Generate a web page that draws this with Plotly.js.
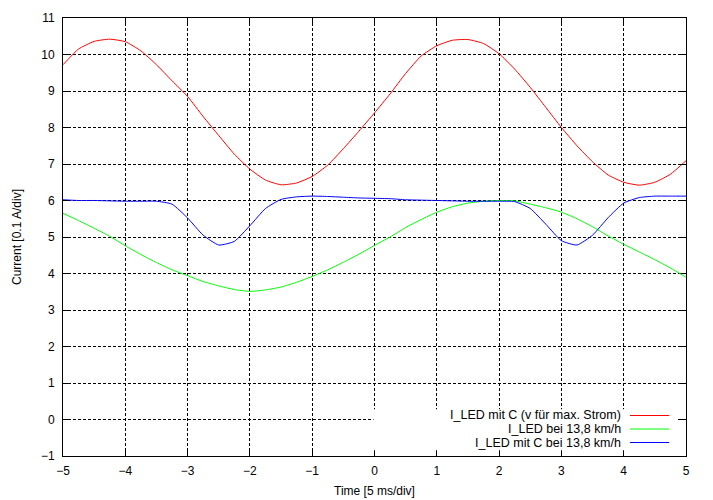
<!DOCTYPE html>
<html>
<head>
<meta charset="utf-8">
<script src="https://cdn.plot.ly/plotly-3.0.1.min.js"></script>
<style>
  html, body { margin: 0; padding: 0; background: white; }
  #chart { width: 713px; height: 500px; }
</style>
</head>
<body>
<div id="chart"></div>
<script>
// Zeitachse (5 ms/div), Schritt 0.25
var timeDiv = [-5, -4.75, -4.5, -4.25, -4, -3.75, -3.5, -3.25, -3, -2.75, -2.5, -2.25, -2, -1.75, -1.5, -1.25, -1, -0.75, -0.5, -0.25,
    0, 0.25, 0.5, 0.75, 1, 1.25, 1.5, 1.75, 2, 2.25, 2.5, 2.75, 3, 3.25, 3.5, 3.75, 4, 4.25, 4.5, 4.75, 5];

// I_LED mit C (v fuer max. Strom)
var ledMaxStrom = [9.72, 10.15, 10.36, 10.42, 10.35, 10.1, 9.72, 9.28, 8.85, 8.3, 7.78, 7.27, 6.86, 6.56, 6.43, 6.48, 6.66, 6.97, 7.42, 7.9,
    8.4, 8.92, 9.48, 9.96, 10.24, 10.39, 10.41, 10.3, 10.02, 9.6, 9.1, 8.55, 8.0, 7.5, 7.06, 6.7, 6.5, 6.42, 6.5, 6.72, 7.09];

// I_LED bei 13,8 km/h
var ledOhneC = [5.65, 5.45, 5.24, 5.02, 4.76, 4.52, 4.3, 4.1, 3.94, 3.78, 3.66, 3.56, 3.51, 3.55, 3.63, 3.76, 3.92, 4.1, 4.31, 4.53,
    4.77, 5.0, 5.26, 5.48, 5.68, 5.83, 5.93, 5.98, 6.0, 5.99, 5.9, 5.8, 5.68, 5.5, 5.28, 5.03, 4.8, 4.59, 4.38, 4.15, 3.9];

// I_LED mit C bei 13,8 km/h
var ledMitC = [6.02, 6.0, 6.0, 5.99, 5.98, 5.98, 5.98, 5.9, 5.52, 5.05, 4.78, 4.88, 5.31, 5.78, 6.03, 6.1, 6.12, 6.11, 6.09, 6.07,
    6.06, 6.05, 6.02, 6.01, 6.0, 5.99, 5.98, 5.98, 5.98, 5.97, 5.78, 5.35, 4.9, 4.78, 5.05, 5.53, 5.93, 6.08, 6.12, 6.12, 6.12];

var seriesNames = ['I_LED mit C (v für max. Strom)', 'I_LED bei 13,8 km/h', 'I_LED mit C bei 13,8 km/h'];
var seriesColors = ['#ff0000', '#00ff00', '#0000ff'];
var seriesData = [ledMaxStrom, ledOhneC, ledMitC];

var xTicks = [-5, -4, -3, -2, -1, 0, 1, 2, 3, 4, 5];
var yTicks = [-1, 0, 1, 2, 3, 4, 5, 6, 7, 8, 9, 10, 11];

var data = [];
for (var i = 0; i < seriesData.length; i++) {
    data.push({
        x: timeDiv,
        y: seriesData[i],
        mode: 'lines',
        name: seriesNames[i],
        line: { color: seriesColors[i], width: 1, shape: 'spline', smoothing: 0.5 }
    });
}

// Legende im gnuplot-Stil: Text rechtsbuendig, Linie rechts daneben
var legendRows = [0.0925, 0.0616, 0.0308];
var annotations = [];
var shapes = [
    // Bereich der Legende verdeckt das Gitter (ueber dem Gitter, Ticks bleiben frei)
    {
        type: 'rect', xref: 'paper', yref: 'paper', layer: 'above',
        x0: 0.4985, x1: 0.987, y0: 0.013, y1: 0.107,
        fillcolor: 'white', line: { width: 0 }
    }
];
for (var k = 0; k < seriesNames.length; k++) {
    annotations.push({
        xref: 'paper', yref: 'paper', x: 0.898, y: legendRows[k],
        xanchor: 'right', yanchor: 'middle', showarrow: false, borderpad: 0,
        text: seriesNames[k], font: { size: 12.5, color: 'black' }
    });
    shapes.push({
        type: 'line', xref: 'paper', yref: 'paper', layer: 'above',
        x0: 0.910, x1: 0.973, y0: legendRows[k], y1: legendRows[k],
        line: { color: seriesColors[k], width: 1 }
    });
}

var axisCommon = {
    showline: true,
    linecolor: 'black',
    linewidth: 1,
    mirror: 'allticks',
    ticks: 'inside',
    ticklen: 5,
    tickcolor: 'black',
    showgrid: true,
    gridcolor: 'black',
    gridwidth: 1,
    griddash: '3px,2px',
    zeroline: false,
    tickfont: { size: 12, color: 'black' }
};

var layout = {
    width: 713,
    height: 500,
    margin: { l: 63, r: 27, t: 18, b: 44 },
    paper_bgcolor: 'white',
    plot_bgcolor: 'white',
    font: { family: 'Liberation Sans, Arial, sans-serif', size: 12, color: 'black' },
    showlegend: false,
    xaxis: Object.assign({}, axisCommon, {
        range: [-5, 5],
        tickvals: xTicks,
        ticklabelstandoff: 4,
        title: { text: 'Time [5 ms/div]', standoff: 9, font: { size: 12 } },
        automargin: false
    }),
    yaxis: Object.assign({}, axisCommon, {
        range: [-1, 11],
        tickvals: yTicks,
        ticklabelstandoff: 5,
        title: { text: 'Current [0.1 A/div]', standoff: 16, font: { size: 12 } },
        automargin: false
    }),
    annotations: annotations,
    shapes: shapes
};

var config = { staticPlot: true, responsive: false };

Plotly.newPlot('chart', data, layout, config);
</script>
</body>
</html>
